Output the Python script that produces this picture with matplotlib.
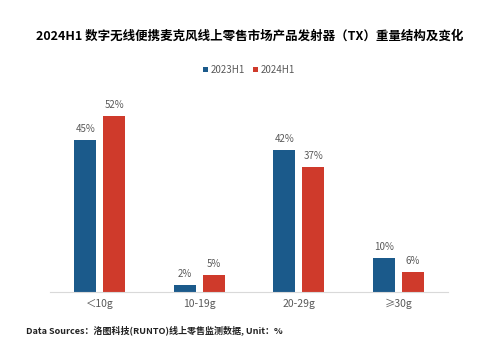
import matplotlib
matplotlib.use("Agg")
from matplotlib import pyplot as plt
import numpy as np

plt.rcParams['font.family'] = ['Noto Sans CJK SC', 'DejaVu Sans']

categories = ["＜10g", "10-19g", "20-29g", "≥30g"]
series_names = ["2023H1", "2024H1"]
values_2023 = [45, 2, 42, 10]
values_2024 = [52, 5, 37, 6]

blue = "#1B5A8B"
red = "#CF3A2B"
grey = "#595959"

fig = plt.figure(figsize=(5, 3.49), dpi=100)
ax = fig.add_axes([0.1, 0.163, 0.796, 0.582])

x = np.arange(len(categories))
w = 0.22
off = 0.146
b1 = ax.bar(x - off, values_2023, w, color=blue, label=series_names[0])
b2 = ax.bar(x + off, values_2024, w, color=red, label=series_names[1])

# value labels above bars
for bars, vals in ((b1, values_2023), (b2, values_2024)):
    for b, v in zip(bars, vals):
        ax.text(b.get_x() + b.get_width() / 2, v + 1.8, f"{v}%",
                ha="center", va="bottom", fontsize=7, color=grey)

ax.set_xlim(-0.5, len(categories) - 0.5)
ax.set_ylim(0, 60)
ax.set_xticks(x)
ax.set_xticklabels(categories, fontsize=7.5, color=grey)
ax.tick_params(axis="x", length=0, pad=5)
ax.set_yticks([])
for s in ("top", "right", "left"):
    ax.spines[s].set_visible(False)
ax.spines["bottom"].set_color("#D9D9D9")
ax.spines["bottom"].set_linewidth(0.8)

leg = ax.legend(loc="center", bbox_to_anchor=(0.5, 1.094), ncol=2, frameon=False,
                fontsize=7, handlelength=0.5, handleheight=0.5, handletextpad=0.3,
                columnspacing=0.8, labelcolor=grey)

fig.text(0.5, 0.897, "2024H1 数字无线便携麦克风线上零售市场产品发射器（TX）重量结构及变化",
         ha="center", va="center", fontsize=9, fontweight="bold", color="black")
fig.text(0.052, 0.055, "Data Sources：洛图科技(RUNTO)线上零售监测数据, Unit：%",
         ha="left", va="center", fontsize=6.5, fontweight="bold", color="#222222")

fig.savefig("out.png", dpi=100)
